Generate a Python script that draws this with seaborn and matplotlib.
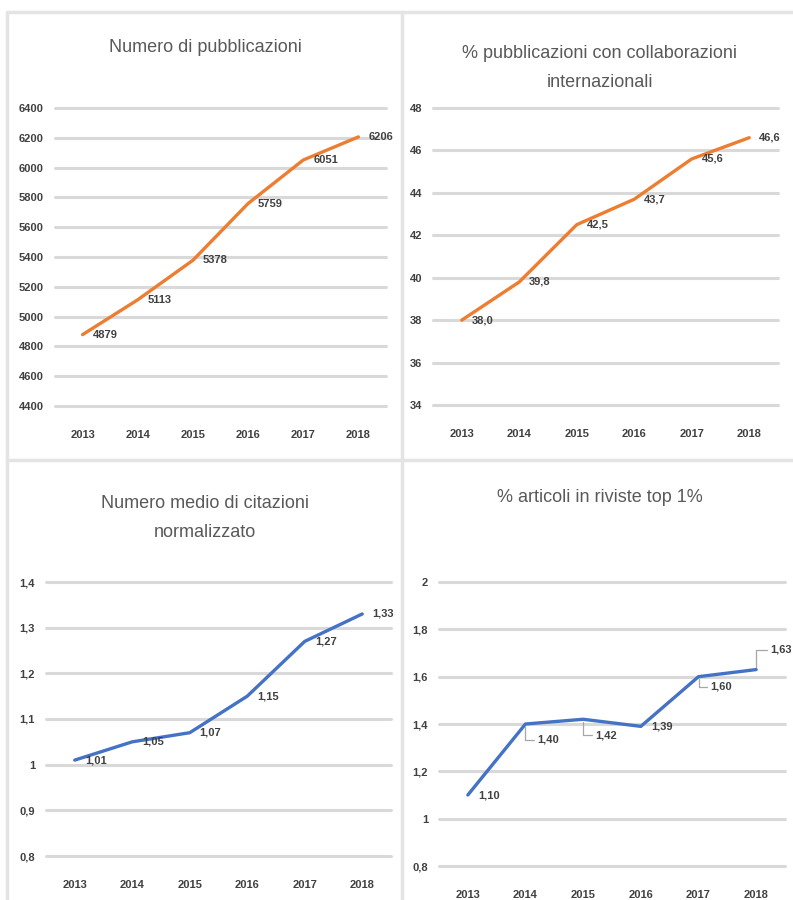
import numpy as np
import pandas as pd
import matplotlib
matplotlib.use('Agg')
import matplotlib.pyplot as plt
import seaborn as sns

# 数据
anni = ['2013', '2014', '2015', '2016', '2017', '2018']
pubblicazioni = [4879, 5113, 5378, 5759, 6051, 6206]
collab_internaz = [38.0, 39.8, 42.5, 43.7, 45.6, 46.6]
citazioni_norm = [1.01, 1.05, 1.07, 1.15, 1.27, 1.33]
riviste_top1 = [1.10, 1.40, 1.42, 1.39, 1.60, 1.63]

titoli = ['Numero di pubblicazioni',
          '% pubblicazioni con collaborazioni\ninternazionali',
          'Numero medio di citazioni\nnormalizzato',
          '% articoli in riviste top 1%']

sns.set_theme(style='white')
plt.rcParams['font.family'] = ['Liberation Sans', 'DejaVu Sans']

ARANCIO = '#ED7D31'
BLU = '#4472C4'
GRIGIO_TESTO = '#595959'
GRIGIO_GRID = '#D9D9D9'

W, H = 793, 900
fig = plt.figure(figsize=(W / 100, H / 100), dpi=100)
fig.patch.set_facecolor('white')


def px_axes(x0, x1, ytop, ybot):
    return fig.add_axes([x0 / W, 1 - ybot / H, (x1 - x0) / W, (ybot - ytop) / H])


def fmt_it(v, dec):
    s = f'{v:.{dec}f}'
    return s.replace('.', ',')


def fmt_tick(v):
    if abs(v - round(v)) < 1e-9:
        return str(int(round(v)))
    return f'{v:g}'.replace('.', ',')


def disegna(ax, valori, colore, ticks, dec, offsets=None):
    df = pd.DataFrame({'anno': anni, 'valore': valori})
    for t in ticks:
        ax.axhline(t, color=GRIGIO_GRID, lw=2.2, zorder=0, clip_on=False)
    sns.lineplot(data=df, x='anno', y='valore', ax=ax, color=colore, lw=2.4, sort=False)
    ax.set_xlim(-0.5, 5.5)
    ax.set_ylim(ticks[0], ticks[-1])
    ax.set_yticks(ticks)
    ax.set_yticklabels([fmt_tick(t) for t in ticks])
    ax.set_xlabel('')
    ax.set_ylabel('')
    for s in ax.spines.values():
        s.set_visible(False)
    ax.tick_params(axis='both', length=0, labelsize=8, colors='#404040')
    ax.tick_params(axis='y', pad=8)
    ax.tick_params(axis='x', pad=17)
    for lab in ax.get_xticklabels() + ax.get_yticklabels():
        lab.set_fontweight('bold')
    ax.set_facecolor('none')
    for i, v in enumerate(valori):
        dx, dy, leader = (10, 0, False)
        if offsets and i in offsets:
            dx, dy, leader = offsets[i]
        kw = {}
        if leader:
            kw['arrowprops'] = dict(arrowstyle='-', color='#A6A6A6', lw=0.9,
                                    connectionstyle='angle,angleA=0,angleB=90,rad=0',
                                    shrinkA=0, shrinkB=2)
        ax.annotate(fmt_it(v, dec), xy=(i, v), xytext=(dx, dy),
                    textcoords='offset pixels', ha='left', va='center',
                    fontsize=8, fontweight='bold', color='#404040', **kw)


ax1 = px_axes(55, 386, 108, 406)
disegna(ax1, pubblicazioni, ARANCIO, list(range(4400, 6401, 200)), 0)

ax2 = px_axes(433, 778, 108, 405)
disegna(ax2, collab_internaz, ARANCIO, list(range(34, 49, 2)), 1)

ax3 = px_axes(46, 391, 582, 856)
disegna(ax3, citazioni_norm, BLU, [0.8, 0.9, 1.0, 1.1, 1.2, 1.3, 1.4], 2)

ax4 = px_axes(439, 785, 582, 866)
disegna(ax4, riviste_top1, BLU, [0.8, 1.0, 1.2, 1.4, 1.6, 1.8, 2.0], 2,
        offsets={1: (12, -16, True), 2: (12, -16, True), 4: (12, -10, True), 5: (14, 20, True)})

# titoli
fig.text(205 / W, 1 - 48 / H, titoli[0], ha='center', va='center', fontsize=13, color=GRIGIO_TESTO)
fig.text(600 / W, 1 - 68 / H, titoli[1], ha='center', va='center', fontsize=13, color=GRIGIO_TESTO,
         linespacing=1.9)
fig.text(205 / W, 1 - 518 / H, titoli[2], ha='center', va='center', fontsize=13, color=GRIGIO_TESTO,
         linespacing=1.9)
fig.text(600 / W, 1 - 498 / H, titoli[3], ha='center', va='center', fontsize=13, color=GRIGIO_TESTO)

# bordi dei pannelli
bordo = dict(color='#E4E4E4', lw=2.5, transform=fig.transFigure, zorder=-1)
fig.add_artist(plt.Line2D([7 / W, 7 / W], [0, 1 - 12 / H], **bordo))
fig.add_artist(plt.Line2D([7 / W, 1], [1 - 12 / H, 1 - 12 / H], **bordo))
fig.add_artist(plt.Line2D([402 / W, 402 / W], [0, 1 - 12 / H], **bordo))
fig.add_artist(plt.Line2D([7 / W, 1], [1 - 460 / H, 1 - 460 / H], **bordo))

plt.savefig('out.png', dpi=100)
